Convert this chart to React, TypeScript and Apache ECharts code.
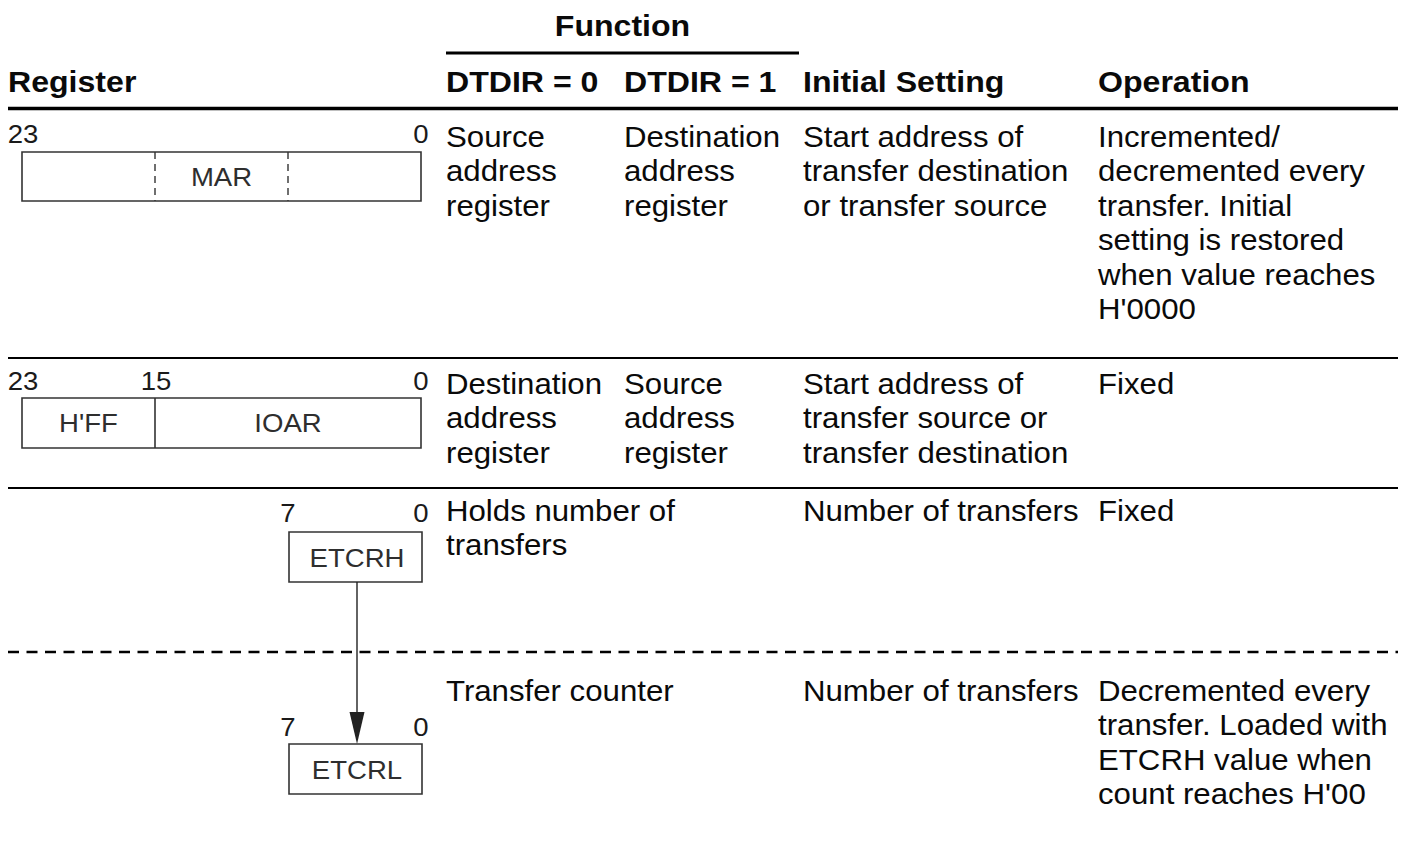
import React, { useEffect, useRef } from "react";
import * as echarts from "echarts";

// ---------- content ----------
const groupTitle = "Function";
const headerLabels = ["Register", "DTDIR = 0", "DTDIR = 1", "Initial Setting", "Operation"];

const dtdir0Texts = [
  "Source\naddress\nregister",
  "Destination\naddress\nregister",
  "Holds number of\ntransfers",
  "Transfer counter",
];
const dtdir1Texts = [
  "Destination\naddress\nregister",
  "Source\naddress\nregister",
  "",
  "",
];
const initialTexts = [
  "Start address of\ntransfer destination\nor transfer source",
  "Start address of\ntransfer source or\ntransfer destination",
  "Number of transfers",
  "Number of transfers",
];
const operationTexts = [
  "Incremented/\ndecremented every\ntransfer. Initial\nsetting is restored\nwhen value reaches\nH'0000",
  "Fixed",
  "Fixed",
  "Decremented every\ntransfer. Loaded with\nETCRH value when\ncount reaches H'00",
];

// register diagrams: bit labels and field names
const marBits = ["23", "0"];
const marFields = ["MAR"];
const ioarBits = ["23", "15", "0"];
const ioarFields = ["H'FF", "IOAR"];
const etcrhBits = ["7", "0"];
const etcrhFields = ["ETCRH"];
const etcrlBits = ["7", "0"];
const etcrlFields = ["ETCRL"];

// ---------- layout ----------
const FONT = '"Liberation Sans", Arial, Helvetica, sans-serif';
const BODY = 30;
const LH = 34.5;
const SX = 1.04;
const colX = [8, 446, 624, 803, 1098];
const rowFirstY = [136, 383, 510, 690];
const LEFT = 8;
const RIGHT = 1398;

function text(x: number, y: number, s: string, opts: any = {}) {
  return {
    type: "text",
    x,
    y,
    scaleX: opts.sx || SX,
    silent: true,
    style: {
      text: s,
      fill: opts.fill || "#0a0a0a",
      fontFamily: FONT,
      fontSize: opts.size || BODY,
      fontWeight: opts.weight || "normal",
      align: opts.align || "left",
      textAlign: opts.align || "left",
      verticalAlign: opts.va || "top",
      textVerticalAlign: opts.va || "top",
      lineHeight: opts.lh || LH,
    },
  };
}

function hline(x1: number, x2: number, y: number, w: number, dash?: number[]) {
  return {
    type: "line",
    silent: true,
    shape: { x1, y1: y, x2, y2: y },
    style: { stroke: "#000", lineWidth: w, lineDash: dash || null },
  };
}

function rect(x1: number, y1: number, x2: number, y2: number) {
  return {
    type: "rect",
    silent: true,
    shape: { x: x1, y: y1, width: x2 - x1, height: y2 - y1 },
    style: { fill: "#fff", stroke: "#333", lineWidth: 1.6 },
  };
}

function vline(x: number, y1: number, y2: number, w: number, dash?: number[], color = "#333") {
  return {
    type: "line",
    silent: true,
    shape: { x1: x, y1, x2: x, y2 },
    style: { stroke: color, lineWidth: w, lineDash: dash || null },
  };
}

function buildGraphics() {
  const g: any[] = [];
  // header
  g.push(text(622.5, 26, groupTitle, { weight: "bold", align: "center", va: "middle", sx: 1.07 }));
  g.push(hline(446, 799, 53, 3));
  headerLabels.forEach((h, i) =>
    g.push(text(colX[i], 82, h, { weight: "bold", va: "middle", sx: 1.07 }))
  );
  g.push(hline(LEFT, RIGHT, 108.5, 3.5));

  // row separators
  g.push(hline(LEFT, RIGHT, 358, 2));
  g.push(hline(LEFT, RIGHT, 488, 2));
  g.push(hline(LEFT, RIGHT, 652, 2.5, [11, 7.5]));

  // column texts
  const cols = [dtdir0Texts, dtdir1Texts, initialTexts, operationTexts];
  cols.forEach((arr, ci) => {
    arr.forEach((s, ri) => {
      if (s) g.push(text(colX[ci + 1], rowFirstY[ri] - LH / 2, s));
    });
  });

  const BIT = 26;
  const LBL = 26;
  const bitFill = "#1a1a1a";
  const lblFill = "#2e2e2e";

  // MAR
  const marEdges = [23, 421];
  marBits.forEach((b, i) =>
    g.push(text(marEdges[i], 134, b, { size: BIT, align: "center", va: "middle", fill: bitFill, sx: 1.06 }))
  );
  g.push(rect(22, 152, 421, 201));
  g.push(vline(155, 152, 201, 1.4, [7, 5]));
  g.push(vline(288, 152, 201, 1.4, [7, 5]));
  g.push(text(221.5, 177, marFields[0], { size: LBL, align: "center", va: "middle", fill: lblFill, sx: 1.06 }));

  // IOAR
  const ioarEdges = [23, 156, 421];
  ioarBits.forEach((b, i) =>
    g.push(text(ioarEdges[i], 381, b, { size: BIT, align: "center", va: "middle", fill: bitFill, sx: 1.06 }))
  );
  g.push(rect(22, 398, 421, 448));
  g.push(vline(155, 398, 448, 1.6));
  g.push(text(88.5, 423.5, ioarFields[0], { size: LBL, align: "center", va: "middle", fill: lblFill, sx: 1.06 }));
  g.push(text(288, 423.5, ioarFields[1], { size: LBL, align: "center", va: "middle", fill: lblFill, sx: 1.06 }));

  // ETCRH
  const eEdges = [288, 421];
  etcrhBits.forEach((b, i) =>
    g.push(text(eEdges[i], 513.5, b, { size: BIT, align: "center", va: "middle", fill: bitFill, sx: 1.06 }))
  );
  g.push(rect(289, 532, 422, 582));
  g.push(text(357, 558, etcrhFields[0], { size: LBL, align: "center", va: "middle", fill: lblFill, sx: 1.06 }));

  // arrow
  g.push(vline(357, 582, 716, 1.4, undefined, "#222"));
  g.push({
    type: "polygon",
    silent: true,
    shape: { points: [[349.5, 712], [364.5, 712], [357, 744]] },
    style: { fill: "#222" },
  });

  // ETCRL
  etcrlBits.forEach((b, i) =>
    g.push(text(eEdges[i], 727, b, { size: BIT, align: "center", va: "middle", fill: bitFill, sx: 1.06 }))
  );
  g.push(rect(289, 744, 422, 794));
  g.push(text(357, 770, etcrlFields[0], { size: LBL, align: "center", va: "middle", fill: lblFill, sx: 1.06 }));

  return g;
}

export default function App() {
  const ref = useRef<HTMLDivElement>(null);
  useEffect(() => {
    if (!ref.current) return;
    const chart = echarts.init(ref.current, null, { renderer: "svg" });
    chart.setOption({
      animation: false,
      backgroundColor: "#fff",
      graphic: { elements: buildGraphics() },
    });
    return () => chart.dispose();
  }, []);
  return (
    <div
      ref={ref}
      style={{ position: "fixed", left: 0, top: 0, width: 1409, height: 843, background: "#fff" }}
    />
  );
}
